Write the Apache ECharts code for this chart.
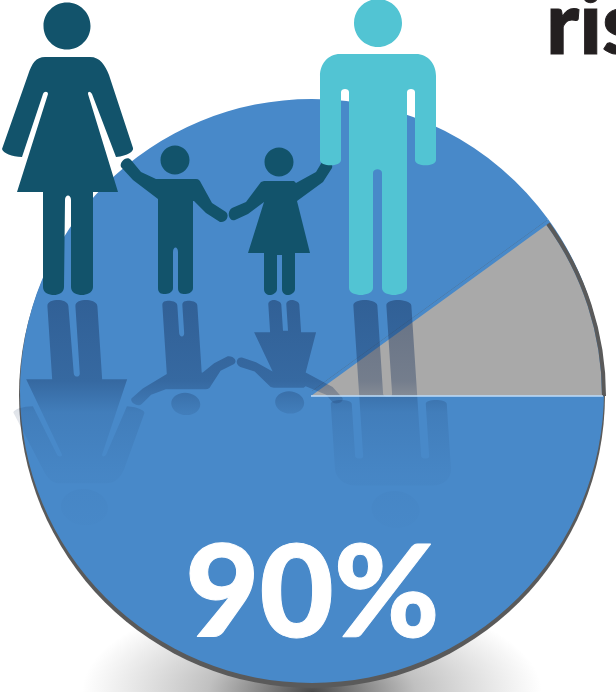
<!DOCTYPE html>
<html><head><meta charset="utf-8">
<style>html,body{margin:0;padding:0;background:#fff}#c{width:616px;height:692px}</style>
<script src="https://cdn.jsdelivr.net/npm/echarts@6/dist/echarts.min.js"></script>
</head><body><div id="c"></div>
<script>
const sliceNames = ['Yes', 'No'];
const shares = [90, 10];
const bigLabel = '90%';
const cutoffWord = 'ris';
const blue = '#4889c9', gray = '#a9a9a9', navy = '#12536b', teal = '#52c4d3';

function circlePath(cx, cy, r) {
  const k = r * 0.5523;
  return `M${cx},${cy - r} C${cx + k},${cy - r} ${cx + r},${cy - k} ${cx + r},${cy} ` +
    `C${cx + r},${cy + k} ${cx + k},${cy + r} ${cx},${cy + r} ` +
    `C${cx - k},${cy + r} ${cx - r},${cy + k} ${cx - r},${cy} ` +
    `C${cx - r},${cy - k} ${cx - k},${cy - r} ${cx},${cy - r} Z`;
}
const woman = circlePath(67, 26, 23.5) + ' M45,57 L90,57 C100,57 105,65 109,75 L133,148 C134,151 128,156 116,157 L92,94 C90,91 88,91 88,94 L118,192 L93,192 L93,287 C93,293 86,295 82,295 C77,295 71,293 71,287 L71,200 C71,194 65,194 65,200 L64,287 C64,293 58,295 54,295 C49,295 43,293 43,287 L43,192 L17,192 L48,94 C48,91 44,91 43,94 L22,157 C12,157 3,153 2,149 L28,75 C32,63 36,57 45,57 Z';
const man = circlePath(378, 23, 24) + ' M340,54 L416,54 C428,54 436,64 436,76 L436,160 C436,167 415,167 415,160 L415,92 C415,88 407,88 407,92 L407,288 C407,293 398,295 394,295 C389,295 382,293 382,288 L382,173 C382,168 373,168 373,173 L373,288 C373,293 365,295 361,295 C356,295 349,293 349,288 L349,92 C349,88 341,88 341,92 L341,160 C341,167 320,167 320,160 L320,76 C320,64 328,54 340,54 Z';
const boy = circlePath(175, 160, 14.5) + ' M131,160 L141,172 L156,179 L196,179 C199,179 200,181 201,183 L212,203 L226,212 C230,216 226,223 220,222 L206,213 L194,201 L193,201 L193,288 C193,293 187,294 185,294 C181,294 178,293 178,288 L178,252 C178,246 173,246 173,252 L173,288 C173,293 167,294 165,294 C161,294 158,293 158,288 L158,199 L133,180 L121,167 C119,162 127,155 131,160 Z';
const girl = circlePath(279, 162, 14.5) + ' M232,208 L246,202 L261,182 L264,181 L294,181 L296,183 L316,172 L322,162 C326,158 334,163 332,168 L323,182 L297,201 L310,253 L295,253 L295,289 C295,293 290,295 288,295 C285,295 282,293 282,289 L282,255 L277,255 L277,289 C277,293 272,295 270,295 C267,295 264,293 264,289 L264,253 L248,253 L264,202 L248,214 L235,220 C229,222 226,212 232,208 Z';

// Mirror a figure across the ground line, squashed and sheared like the reference.
function mirror(d) {
  return d.replace(/(-?[\d.]+),(-?[\d.]+)/g, (m, x, y) => {
    const ny = 300 + 0.77 * (295 - (+y));
    const nx = (+x) + 4 + 0.065 * (ny - 300);
    return nx.toFixed(2) + ',' + ny.toFixed(2);
  });
}
const fade = {
  type: 'linear', x: 0, y: 300, x2: 0, y2: 525, global: true,
  colorStops: [
    { offset: 0, color: 'rgba(22,48,90,0.46)' },
    { offset: 0.36, color: 'rgba(22,48,90,0.36)' },
    { offset: 0.5, color: 'rgba(22,48,90,0.13)' },
    { offset: 0.78, color: 'rgba(22,48,90,0.035)' },
    { offset: 1, color: 'rgba(22,48,90,0.012)' }
  ]
};
const people = [['woman', woman, navy], ['boy', boy, navy], ['girl', girl, navy], ['man', man, teal]];
people.forEach(p => {
  echarts.graphic.registerShape('fig_' + p[0], echarts.graphic.extendPath(p[1]));
  echarts.graphic.registerShape('mir_' + p[0], echarts.graphic.extendPath(mirror(p[1])));
});

const chart = echarts.init(document.getElementById('c'), null, { renderer: 'canvas' });
chart.setOption({
  animation: false,
  backgroundColor: '#fff',
  tooltip: { show: false },
  graphic: {
    elements: [
      {
        type: 'circle', silent: true, z: -2, x: 312, y: 692, scaleX: 2.3, scaleY: 1,
        shape: { cx: 0, cy: 0, r: 100 },
        style: {
          fill: {
            type: 'radial', x: 0.5, y: 0.5, r: 0.5,
            colorStops: [
              { offset: 0, color: 'rgba(40,40,40,0.85)' },
              { offset: 0.45, color: 'rgba(60,60,60,0.32)' },
              { offset: 1, color: 'rgba(80,80,80,0)' }
            ]
          }
        }
      },
      { type: 'circle', silent: true, z: -1, shape: { cx: 312, cy: 395, r: 293 }, style: { fill: '#5a5a5a' } },
      {
        type: 'arc', silent: true, z: 5,
        shape: { cx: 311, cy: 396, r: 293, startAngle: -36 * Math.PI / 180, endAngle: 0, clockwise: true },
        style: { stroke: '#5a5a5a', fill: 'none', lineWidth: 4 }
      },
      ...people.map(p => ({ type: 'mir_' + p[0], silent: true, z: 8, style: { fill: fade } })),
      { type: 'line', silent: true, z: 9, shape: { x1: 311, y1: 396, x2: 603, y2: 396 }, style: { stroke: 'rgba(190,220,250,0.75)', lineWidth: 2 } },
      ...people.map(p => ({ type: 'fig_' + p[0], silent: true, z: 10, style: { fill: p[2] } })),
      {
        type: 'text', silent: true, z: 11, x: 312.5, y: 596,
        style: { text: bigLabel, fill: '#fff', stroke: '#fff', lineWidth: 1, font: '900 128px Lato', align: 'center', verticalAlign: 'middle' }
      },
      {
        type: 'text', silent: true, z: 11, x: 546, y: -18,
        style: { text: cutoffWord, fill: '#231f20', stroke: '#231f20', lineWidth: 1, font: '900 88px Lato', align: 'left', verticalAlign: 'top' }
      }
    ]
  },
  series: [
    {
      type: 'pie', silent: true, z: 2, center: [312, 391], radius: [0, 292], startAngle: 0, clockwise: true,
      label: { show: false }, labelLine: { show: false },
      data: shares.map((v, i) => ({ name: sliceNames[i], value: v, itemStyle: { color: blue } }))
    },
    {
      type: 'pie', silent: true, z: 3, center: [311, 396], radius: [0, 291], startAngle: 0, clockwise: true,
      label: { show: false }, labelLine: { show: false },
      data: shares.map((v, i) => ({ name: sliceNames[i], value: v, itemStyle: { color: i === 1 ? gray : 'rgba(0,0,0,0)' } }))
    }
  ]
});
</script></body></html>
